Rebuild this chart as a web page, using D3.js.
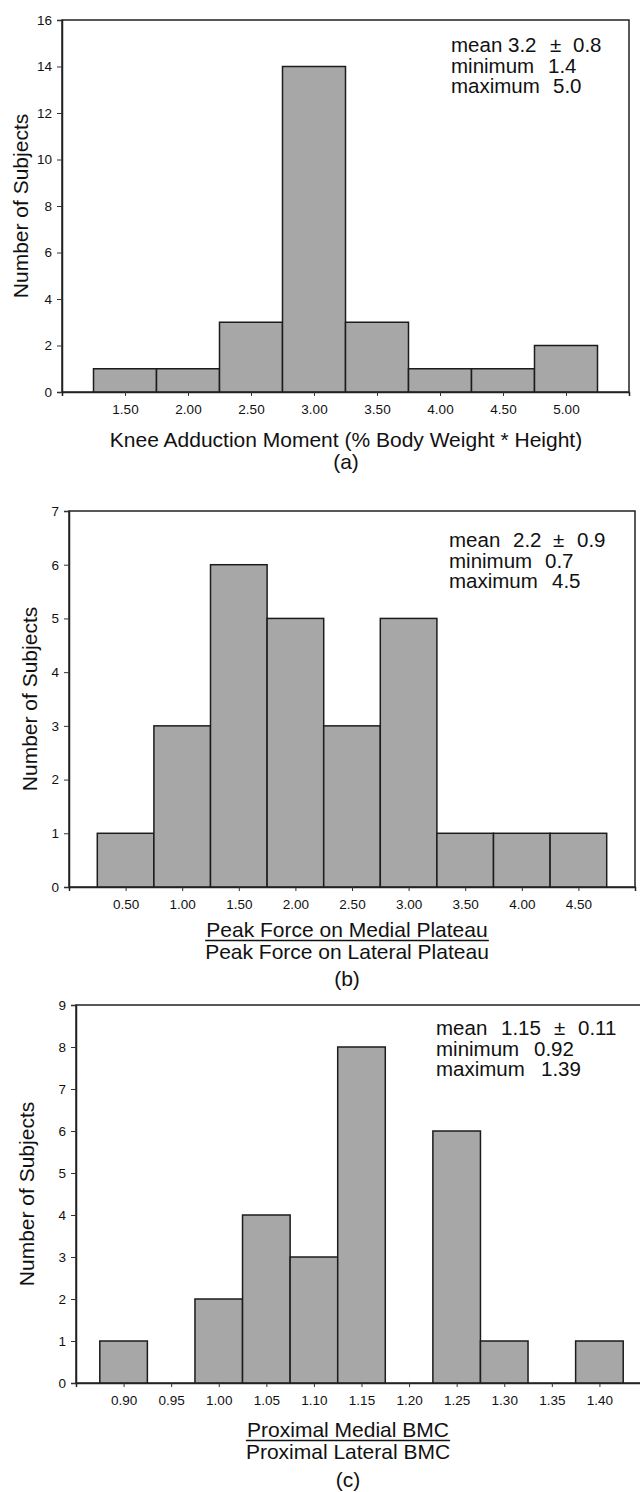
<!DOCTYPE html>
<html>
<head>
<meta charset="utf-8">
<script src="https://cdn.jsdelivr.net/npm/d3@7"></script>
<style>
  html, body { margin: 0; padding: 0; background: #fff; }
  svg { display: block; }
  text { font-family: "Liberation Sans", Arial, Helvetica, sans-serif; fill: #111; }
</style>
</head>
<body>
<svg id="chart" width="640" height="1492"></svg>
<script>
// ---------------- DATA ----------------
// Panel (a): Knee adduction moment
const centersA = [1.50, 2.00, 2.50, 3.00, 3.50, 4.00, 4.50, 5.00];
const countsA  = [1, 1, 3, 14, 3, 1, 1, 2];
const yTicksA  = [0, 2, 4, 6, 8, 10, 12, 14, 16];
const statsA   = [["mean", "3.2", "0.8"], ["minimum", "1.4"], ["maximum", "5.0"]];
const titleA   = ["Knee Adduction Moment (% Body Weight * Height)"];

// Panel (b): Peak force medial / lateral
const centersB = [0.50, 1.00, 1.50, 2.00, 2.50, 3.00, 3.50, 4.00, 4.50];
const countsB  = [1, 3, 6, 5, 3, 5, 1, 1, 1];
const yTicksB  = [0, 1, 2, 3, 4, 5, 6, 7];
const statsB   = [["mean", "2.2", "0.9"], ["minimum", "0.7"], ["maximum", "4.5"]];
const titleB   = ["Peak Force on Medial Plateau", "Peak Force on Lateral Plateau"];

// Panel (c): Proximal medial / lateral BMC
const centersC = [0.90, 0.95, 1.00, 1.05, 1.10, 1.15, 1.20, 1.25, 1.30, 1.35, 1.40];
const countsC  = [1, 0, 2, 4, 3, 8, 0, 6, 1, 0, 1];
const yTicksC  = [0, 1, 2, 3, 4, 5, 6, 7, 8, 9];
const statsC   = [["mean", "1.15", "0.11"], ["minimum", "0.92"], ["maximum", "1.39"]];
const titleC   = ["Proximal Medial BMC", "Proximal Lateral BMC"];

const yLabel = "Number of Subjects";

// ---------------- LAYOUT ----------------
const panels = [
  { centers: centersA, counts: countsA, yTicks: yTicksA, stats: statsA, title: titleA, tag: "(a)",
    binW: 0.5, xDom: [1.0, 5.5], yMax: 16,
    left: 62, right: 629, top: 20, bottom: 392,
    statX: 451, statY: 32, statOff: [57, 99, 122, 97, 102],
    yLabX: 28, titleY: [447], tagY: 469, cx: 346 },
  { centers: centersB, counts: countsB, yTicks: yTicksB, stats: statsB, title: titleB, tag: "(b)",
    binW: 0.5, xDom: [0, 5.0], yMax: 7,
    left: 69, right: 635, top: 511, bottom: 887,
    statX: 449, statY: 36, statOff: [64, 104, 128, 96, 103],
    yLabX: 37, titleY: [937, 959], tagY: 986, cx: 347 },
  { centers: centersC, counts: countsC, yTicks: yTicksC, stats: statsC, title: titleC, tag: "(c)",
    binW: 0.05, xDom: [0.85, 1.45], yMax: 9,
    left: 76, right: 647, top: 1005, bottom: 1383,
    statX: 436, statY: 30, statOff: [65, 118, 142, 98, 105],
    yLabX: 34, titleY: [1437, 1459], tagY: 1487, cx: 348 }
];

const svg = d3.select("#chart");
const fmt2 = d3.format(".2f");

panels.forEach(p => {
  const x = d3.scaleLinear().domain(p.xDom).range([p.left, p.right]);
  const y = d3.scaleLinear().domain([0, p.yMax]).range([p.bottom, p.top]);
  const g = svg.append("g");

  // frame
  g.append("rect")
    .attr("x", p.left).attr("y", p.top)
    .attr("width", p.right - p.left).attr("height", p.bottom - p.top)
    .attr("fill", "none").attr("stroke", "#222").attr("stroke-width", 1.5);

  // bars
  const data = p.centers.map((c, i) => ({ c, n: p.counts[i] })).filter(d => d.n > 0);
  g.selectAll("rect.bar").data(data).enter().append("rect")
    .attr("class", "bar")
    .attr("x", d => x(d.c - p.binW / 2))
    .attr("width", d => x(d.c + p.binW / 2) - x(d.c - p.binW / 2))
    .attr("y", d => y(d.n))
    .attr("height", d => y(0) - y(d.n))
    .attr("fill", "#a7a7a7").attr("stroke", "#1c1c1c").attr("stroke-width", 1.5);

  // axes
  const ya = g.append("g").attr("transform", `translate(${p.left},0)`)
    .call(d3.axisLeft(y).tickValues(p.yTicks).tickFormat(d3.format("d")).tickSize(5).tickPadding(5));
  const xa = g.append("g").attr("transform", `translate(0,${p.bottom})`)
    .call(d3.axisBottom(x).tickValues(p.centers).tickFormat(fmt2).tickSize(4).tickPadding(8));
  [ya, xa].forEach(a => {
    a.select(".domain").attr("stroke", "#222").attr("stroke-width", 1.5);
    a.selectAll(".tick line").attr("stroke", "#333").attr("stroke-width", 1);
    a.selectAll(".tick text").attr("font-size", 13.5).attr("fill", "#111")
      .style("font-family", '"Liberation Sans", Arial, sans-serif');
  });

  // y label
  g.append("text")
    .attr("transform", `translate(${p.yLabX},${(p.top + p.bottom) / 2}) rotate(-90)`)
    .attr("text-anchor", "middle").attr("font-size", 21)
    .text(yLabel);

  // stats box
  const sx = p.statX, sy = p.top + p.statY, lh = 20.5, fs = 20.5;
  const o = p.statOff;
  const s = g.append("g").attr("font-size", fs);
  s.append("text").attr("x", sx).attr("y", sy).attr("font-size", fs).text(p.stats[0][0]);
  s.append("text").attr("x", sx + o[0]).attr("y", sy).attr("font-size", fs).text(p.stats[0][1]);
  s.append("text").attr("x", sx + o[1]).attr("y", sy).attr("font-size", fs).text("±");
  s.append("text").attr("x", sx + o[2]).attr("y", sy).attr("font-size", fs).text(p.stats[0][2]);
  s.append("text").attr("x", sx).attr("y", sy + lh).attr("font-size", fs).text(p.stats[1][0]);
  s.append("text").attr("x", sx + o[3]).attr("y", sy + lh).attr("font-size", fs).text(p.stats[1][1]);
  s.append("text").attr("x", sx).attr("y", sy + 2 * lh).attr("font-size", fs).text(p.stats[2][0]);
  s.append("text").attr("x", sx + o[4]).attr("y", sy + 2 * lh).attr("font-size", fs).text(p.stats[2][1]);

  // x title (single line or fraction)
  const tnodes = p.title.map((t, i) =>
    g.append("text").attr("x", p.cx).attr("y", p.titleY[i])
      .attr("text-anchor", "middle").attr("font-size", 21).text(t));
  if (p.title.length === 2) {
    const w = Math.max(...tnodes.map(t => t.node().getComputedTextLength()));
    g.append("line")
      .attr("x1", p.cx - w / 2).attr("x2", p.cx + w / 2)
      .attr("y1", p.titleY[0] + 3.5).attr("y2", p.titleY[0] + 3.5)
      .attr("stroke", "#111").attr("stroke-width", 1.6);
  }
  g.append("text").attr("x", p.cx).attr("y", p.tagY)
    .attr("text-anchor", "middle").attr("font-size", 21).text(p.tag);
});
</script>
</body>
</html>
